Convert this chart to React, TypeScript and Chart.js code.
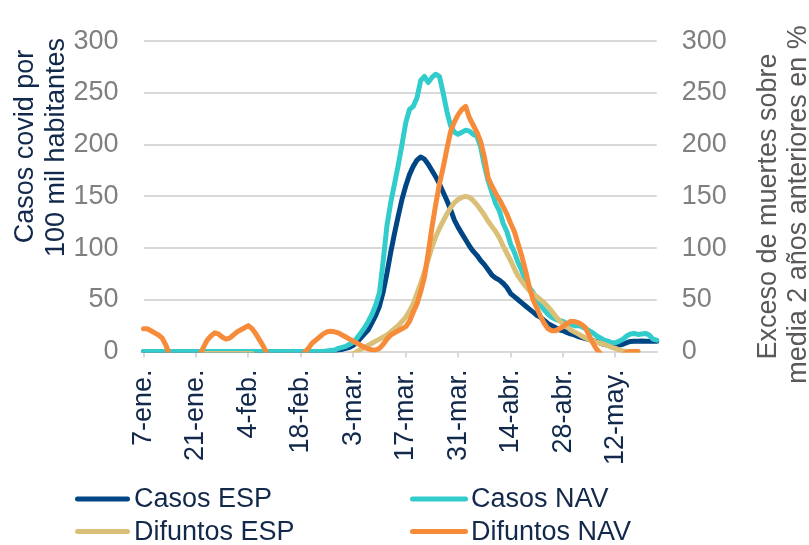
import React, { useEffect, useRef } from "react";
import { Chart, registerables } from "chart.js";

Chart.register(...registerables);

// ---------- data ----------
const MONTHS = ["ene.", "feb.", "mar.", "abr.", "may.", "jun."];
const NUM_DAYS = 138; // 7-ene. .. 23-may.
const categories: string[] = [];
for (let i = 0; i < NUM_DAYS; i++) {
  const d = new Date(2020, 0, 7 + i);
  categories.push(`${d.getDate()}-${MONTHS[d.getMonth()]}`);
}

const xTickLabels = ["7-ene.", "21-ene.", "4-feb.", "18-feb.", "3-mar.", "17-mar.", "31-mar.", "14-abr.", "28-abr.", "12-may."];
const yTicks = [0, 50, 100, 150, 200, 250, 300];

const seriesNames = ["Casos ESP", "Casos NAV", "Difuntos ESP", "Difuntos NAV"];
const leftAxisTitle = ["Casos covid por", "100 mil habitantes"];
const rightAxisTitle = ["Exceso de muertes sobre", "media 2 años anteriores en %"];

const casosESP: (number | null)[] = [
  0, 0, 0, 0, 0, 0, 0, 0, 0, 0, 0, 0, 0, 0,
  0, 0, 0, 0, 0, 0, 0, 0, 0, 0, 0, 0, 0, 0,
  0, 0, 0, 0, 0, 0, 0, 0, 0, 0, 0, 0, 0, 0,
  0, 0, 0, 0, 0, 0, 0, 0, 0.3, 0.5, 1.5, 2, 3, 4,
  6, 9, 13, 17, 21, 28, 35, 44, 58, 76, 96, 114, 131, 147,
  160, 171, 179, 185, 188, 186, 181, 175, 169, 162, 154, 146, 137, 127,
  120, 114, 108, 102, 97, 93, 88, 84, 79, 74, 71, 69, 66, 62,
  56, 53, 50, 47, 44, 41, 38, 35, 33, 30, 27, 25, 23, 21,
  20, 18.5, 17, 16, 14.5, 13.5, 12.5, 11.5, 10.6, 9.5, 8, 7, 6, 5.4,
  5.6, 6.2, 7, 8.5, 9.7, 10, 10, 10.2, 10, 10, 10, 10,
];

const casosNAV: (number | null)[] = [
  0, 0, 0, 0, 0, 0, 0, 0, 0, 0, 0, 0, 0, 0,
  0, 0, 0, 0, 0, 0, 0, 0, 0, 0, 0, 0, 0, 0,
  0, 0, 0, 0, 0, 0, 0, 0, 0, 0, 0, 0, 0, 0,
  0, 0, 0, 0, 0, 0, 0, 0.5, 1, 1.5, 3, 4, 5, 7,
  9, 13, 18, 23, 29, 36, 45, 57, 88, 122, 144, 162, 180, 200,
  221, 234, 237, 245, 262, 266, 260, 265, 268, 266, 250, 232, 218, 212,
  210, 212, 214, 213, 210, 208, 198, 180, 165, 154, 143, 136, 124, 116,
  104, 96, 86, 78, 68, 62, 57, 51, 45, 40, 36, 33, 31, 30,
  29, 27, 26, 25, 25, 24, 22, 20, 18, 15, 13, 11, 10, 8.5,
  8.5, 10, 12, 15, 17, 17.5, 16.5, 17, 17.5, 16, 12, 11,
];

const difuntosESP: (number | null)[] = [
  -5, -5, -5, -5, -5, -5, -5, -5, -5, -5, -5, -5, -5, -5,
  -5, -5, -2, -2, -2, -2, -2, -2, -2, -2, -2, -2, -2, -2,
  -2, -2, -5, -5, -5, -5, -5, -5, -5, -5, -5, -5, -5, -5,
  -5, -5, -5, -5, -5, -5, -5, -5, -5, -5, -5, -5, -4, -3,
  -2, 0, 2, 4, 6, 8, 10, 12, 14, 16, 19, 22, 25, 29,
  33, 39, 46, 56, 66, 77, 89, 101, 111, 119, 126, 133, 139, 144,
  147, 149, 150, 149, 146, 142, 137, 132, 126, 121, 116, 110, 102, 95,
  88, 80, 73, 68, 63, 59, 56, 53, 50, 47, 43, 39, 34, 30,
  27, 24, 21, 19, 17, 15, 13, 11.5, 10.5, 9, 8, 7, 5.5, 4,
  3, 1.5, 0.6, 0.2, 0, 0, 0, null, null, null, null, null,
];

const difuntosNAV: (number | null)[] = [
  22, 22, 20, 18, 16, 13, 6, -4, -5, -5, -5, -5, -5, -5,
  -5, -3, 4, 11, 15, 18, 17, 14, 12, 13, 16, 19, 21, 23,
  25, 22, 17, 11, 5, -2, -5, -5, -5, -5, -5, -5, -5, -5,
  -5, -1, 3, 8, 11, 14, 17, 19, 19.5, 19, 18, 16, 14, 12,
  10, 8, 6, 4, 2.5, 1.5, 1.5, 3, 7, 12, 16, 18, 20, 22,
  24, 29, 38, 46, 58, 72, 95, 120, 142, 162, 178, 196, 213, 222,
  229, 234, 237, 226, 219, 212, 203, 188, 168, 160, 153, 147, 140, 133,
  124, 116, 104, 92, 78, 62, 50, 42, 34, 27, 22, 20, 20, 22,
  24, 27, 29, 29, 28, 26, 23, 15, 8, 2, -2, -5, -5, -5,
  -5, -5, -3, -1, 0, 0, 0, null, null, null, null, null,
];

// ---------- styles ----------
const FONT = '"Liberation Sans", Arial, Helvetica, sans-serif';
const NAVY = "#13294b";
const TICK_GRAY = "#7f7f7f";
const TITLE_GRAY = "#595959";
const GRID = "#d9d9d9";
const COLORS = ["#004685", "#33cccc", "#d9bf77", "#f68b3a"];

const textPlugin = {
  id: "customText",
  afterDraw(chart: any) {
    const ctx: CanvasRenderingContext2D = chart.ctx;
    ctx.save();
    ctx.font = `27px ${FONT}`;
    const vtext = (t: string, x: number, y: number, color: string) => {
      ctx.save();
      ctx.translate(x, y);
      ctx.rotate(-Math.PI / 2);
      ctx.fillStyle = color;
      ctx.textAlign = "center";
      ctx.textBaseline = "alphabetic";
      ctx.fillText(t, 0, 0);
      ctx.restore();
    };
    vtext(leftAxisTitle[0], 33, 146.5, NAVY);
    vtext(leftAxisTitle[1], 64, 147.5, NAVY);
    vtext(rightAxisTitle[0], 776, 206.5, TITLE_GRAY);
    vtext(rightAxisTitle[1], 806, 204.5, TITLE_GRAY);

    // legend
    const rows = [499, 531.5];
    const cols = [
      { x0: 77.5, x1: 127.5, tx: 134 },
      { x0: 412.5, x1: 465.5, tx: 471 },
    ];
    ctx.textAlign = "left";
    ctx.textBaseline = "middle";
    seriesNames.forEach((name, i) => {
      const r = rows[Math.floor(i / 2)];
      const c = cols[i % 2];
      ctx.strokeStyle = COLORS[i];
      ctx.lineWidth = 5;
      ctx.lineCap = "round";
      ctx.beginPath();
      ctx.moveTo(c.x0, r);
      ctx.lineTo(c.x1, r);
      ctx.stroke();
      ctx.fillStyle = NAVY;
      ctx.fillText(name, c.tx, r + 1);
    });
    ctx.restore();
  },
};

export default function App() {
  const ref = useRef<HTMLCanvasElement | null>(null);

  useEffect(() => {
    if (!ref.current) return;
    const seriesData = [casosESP, casosNAV, difuntosESP, difuntosNAV];
    const axisIds = ["y", "y", "y1", "y1"];
    const orders = [4, 3, 2, 1];
    const chart = new Chart(ref.current, {
      type: "line",
      data: {
        labels: categories,
        datasets: seriesNames.map((name, i) => ({
          label: name,
          data: seriesData[i],
          borderColor: COLORS[i],
          backgroundColor: COLORS[i],
          borderWidth: 5,
          pointRadius: 0,
          pointHoverRadius: 0,
          tension: 0,
          borderJoinStyle: "round",
          borderCapStyle: "round",
          fill: false,
          spanGaps: false,
          yAxisID: axisIds[i],
          order: orders[i],
          clip: { left: 4, top: 4, right: 4, bottom: 1 },
        })) as any,
      },
      options: {
        animation: false,
        responsive: false,
        devicePixelRatio: 1,
        events: [],
        layout: { padding: { top: 20.5, left: 0, right: 0, bottom: 0 } },
        plugins: {
          legend: { display: false },
          tooltip: { enabled: false },
          title: { display: false },
        },
        scales: {
          x: {
            type: "category",
            offset: false,
            grid: {
              display: true,
              drawOnChartArea: false,
              drawTicks: true,
              tickLength: 6,
              lineWidth: 2,
              color: (c: any) => (c.index % 14 === 0 ? GRID : "rgba(0,0,0,0)"),
            },
            border: { display: true, color: GRID, width: 2 },
            ticks: {
              autoSkip: false,
              minRotation: 90,
              maxRotation: 90,
              padding: 12,
              color: NAVY,
              font: { family: FONT, size: 27 },
              callback: (_v: any, i: number) => (i % 14 === 0 ? xTickLabels[i / 14] : ""),
            },
            afterFit: (s: any) => {
              s.height = 193.5;
            },
          },
          y: {
            position: "left",
            min: yTicks[0],
            max: yTicks[yTicks.length - 1],
            ticks: {
              stepSize: 50,
              padding: 25,
              color: TICK_GRAY,
              font: { family: FONT, size: 27 },
            },
            grid: { color: GRID, lineWidth: 2, drawTicks: false },
            border: { display: false },
            afterFit: (s: any) => {
              s.width = 143.5;
            },
          },
          y1: {
            position: "right",
            min: yTicks[0],
            max: yTicks[yTicks.length - 1],
            ticks: {
              stepSize: 50,
              padding: 25,
              color: TICK_GRAY,
              font: { family: FONT, size: 27 },
            },
            grid: { drawOnChartArea: false, drawTicks: false },
            border: { display: false },
            afterFit: (s: any) => {
              s.width = 152.3;
            },
          },
        },
      } as any,
      plugins: [textPlugin],
    });
    return () => chart.destroy();
  }, []);

  return (
    <div style={{ position: "absolute", left: 0, top: 0, width: 809, height: 545, background: "#fff" }}>
      <canvas ref={ref} width={809} height={545} style={{ width: 809, height: 545, display: "block" }} />
    </div>
  );
}
